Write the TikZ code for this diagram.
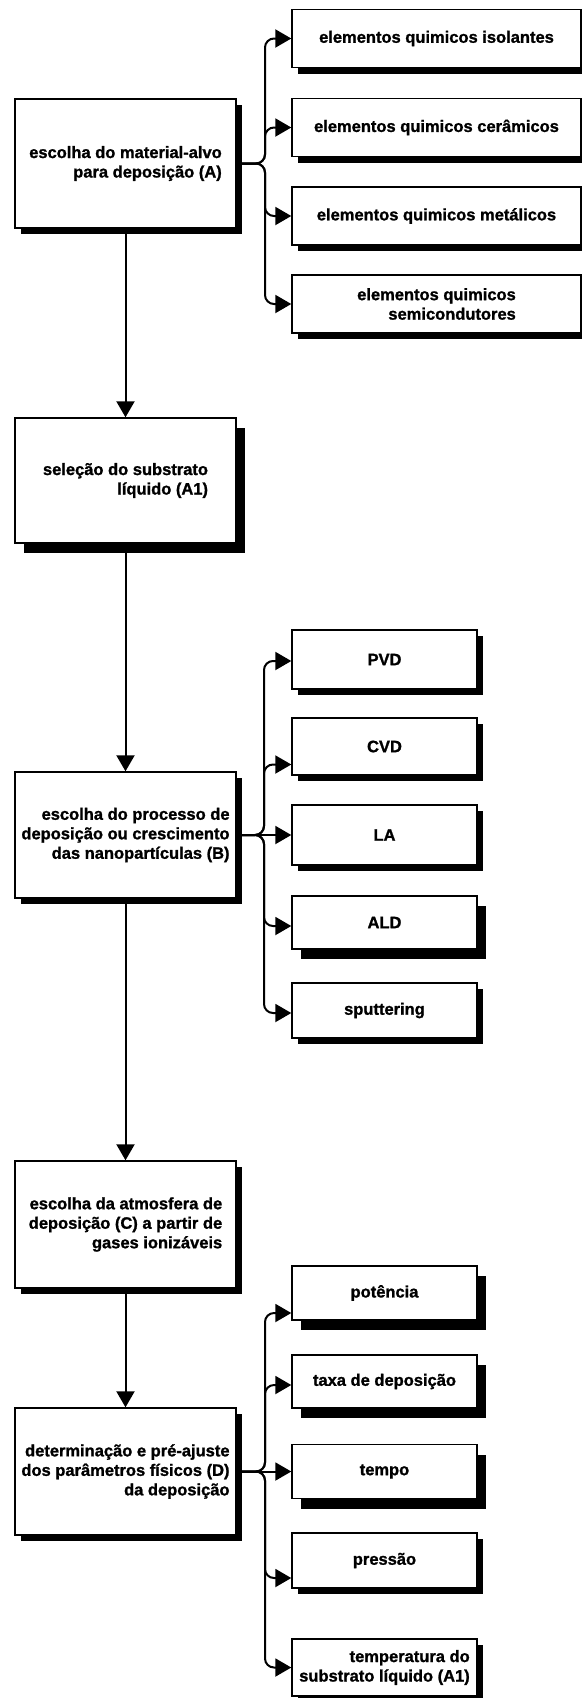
\documentclass[tikz,border=0pt]{standalone}
\usepackage{fontspec}
\setmainfont{Liberation Sans}[BoldFeatures={FakeBold=1.2}]
\usetikzlibrary{arrows.meta,shadows,calc}
\begin{document}
\begin{tikzpicture}[x=1bp,y=-1bp,
  every node/.style={font=\fontsize{16.5bp}{19.5bp}\selectfont\bfseries},
  boxbase/.style={draw=black, line width=1.4bp, fill=white, align=right, inner sep=0pt},
  box/.style={boxbase, drop shadow={shadow xshift=6bp, shadow yshift=-6bp, fill=black, opacity=1}},
  heavybox/.style={boxbase, drop shadow={shadow xshift=9bp, shadow yshift=-10bp, fill=black, opacity=1}},
  leftbox/.style={box, minimum width=221bp},
  leftheavy/.style={heavybox, minimum width=221bp},
  topbox/.style={box, minimum width=289bp, minimum height=58bp},
  midbox/.style={box, minimum width=185bp},
  midheavy/.style={heavybox, minimum width=185bp},
  arr/.style={line width=2bp, -{Triangle[length=16bp,width=18bp]}},
  branch/.style={arr, rounded corners=9bp}]
\useasboundingbox (0,0) rectangle (582,1698);

% left column
\node[leftbox, minimum height=129bp] (A) at (125.5,163.5) {escolha do material-alvo\\para deposição (A)};
\node[leftheavy, minimum height=125bp] (A1) at (125.5,480.5) {seleção do substrato\\líquido (A1)};
\node[leftbox, minimum height=126bp] (B) at (125.5,835) {escolha do processo de\\deposição ou crescimento\\das nanopartículas (B)};
\node[leftbox, minimum height=127bp] (C) at (125.5,1224.5) {escolha da atmosfera de\\deposição (C) a partir de\\gases ionizáveis};
\node[leftbox, minimum height=127bp] (D) at (125.5,1471.5) {determinação e pré-ajuste\\dos parâmetros físicos (D)\\da deposição};

% top group
\node[topbox] (r1) at (436.5,38.5) {elementos quimicos isolantes};
\node[topbox] (r2) at (436.5,127.5) {elementos quimicos cerâmicos};
\node[topbox] (r3) at (436.5,216) {elementos quimicos metálicos};
\node[topbox] (r4) at (436.5,304) {elementos quimicos\\semicondutores};

% middle group
\node[midbox, minimum height=59bp] (pvd) at (384.5,659.5) {PVD};
\node[midbox, minimum height=57bp] (cvd) at (384.5,746.5) {CVD};
\node[midbox, minimum height=60bp] (la) at (384.5,835) {LA};
\node[midheavy, minimum height=53bp] (ald) at (384.5,922.5) {ALD};
\node[midbox, minimum height=55bp] (sput) at (384.5,1010.5) {sputtering};

% lower group
\node[midheavy, minimum height=54bp] (pot) at (384.5,1293) {potência};
\node[midheavy, minimum height=53bp] (taxa) at (384.5,1381.5) {taxa de deposição};
\node[midheavy, minimum height=54bp] (tempo) at (384.5,1471.5) {tempo};
\node[midbox, minimum height=55bp] (pres) at (384.5,1560.5) {pressão};
\node[midbox, minimum height=57bp] (temp) at (384.5,1667.5) {temperatura do\\substrato líquido (A1)};

% trunk junctions
\coordinate (ta) at (265,163.5);
\coordinate (tb) at (264,835);
\coordinate (td) at (265,1471.5);

% vertical flow
\draw[arr] (A) -- (A1);
\draw[arr] (A1) -- (B);
\draw[arr] (B) -- (C);
\draw[arr] (C) -- (D);

% branches from A
\draw[branch] (A.east) -- (ta) |- (r1.west);
\draw[branch] (A.east) -- (ta) |- (r2.west);
\draw[branch] (A.east) -- (ta) |- (r3.west);
\draw[branch] (A.east) -- (ta) |- (r4.west);

% branches from B
\draw[branch] (B.east) -- (tb) |- ($(pvd.west)+(0,1.5)$);
\draw[branch] (B.east) -- (tb) |- ($(cvd.west)+(0,18)$);
\draw[arr] (B.east) -- (la.west);
\draw[branch] (B.east) -- (tb) |- ($(ald.west)+(0,3.5)$);
\draw[branch] (B.east) -- (tb) |- ($(sput.west)+(0,2.5)$);

% branches from D
\draw[branch] (D.east) -- (td) |- ($(pot.west)+(0,20)$);
\draw[branch] (D.east) -- (td) |- ($(taxa.west)+(0,3.5)$);
\draw[arr] (D.east) -- (tempo.west);
\draw[branch] (D.east) -- (td) |- ($(pres.west)+(0,17.5)$);
\draw[branch] (D.east) -- (td) |- (temp.west);
\end{tikzpicture}
\end{document}
